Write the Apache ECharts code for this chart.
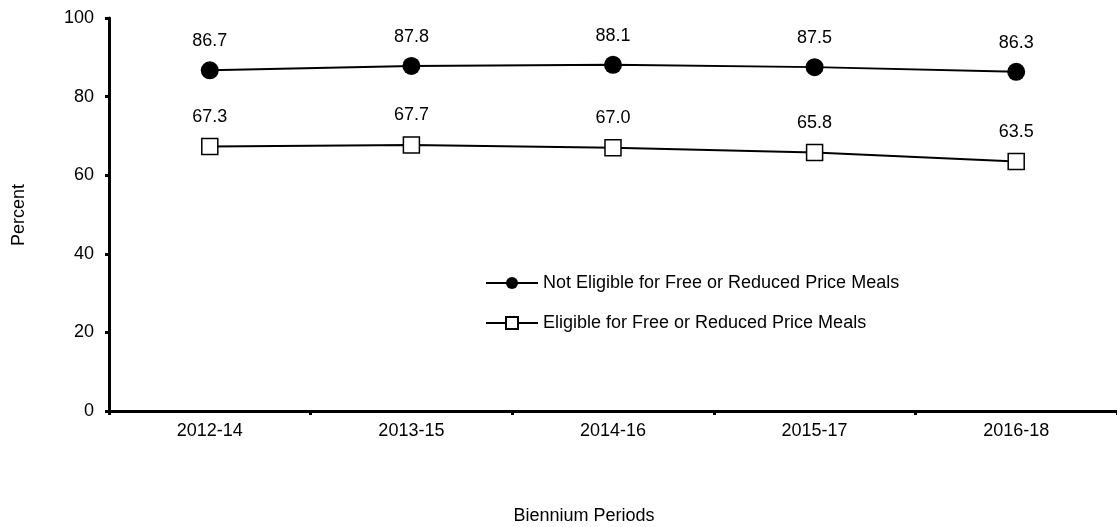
<!DOCTYPE html>
<html>
<head>
<meta charset="utf-8">
<script src="https://cdn.jsdelivr.net/npm/echarts@6/dist/echarts.min.js"></script>
<style>
  html, body { margin: 0; padding: 0; background: #fff; }
  #chart { width: 1117px; height: 527px; }
</style>
</head>
<body>
<div id="chart"></div>
<script>
// Biennium periods on the category axis
const periods = ['2012-14', '2013-15', '2014-16', '2015-17', '2016-18'];
// Percent of students, by meal eligibility
const notEligible = [86.7, 87.8, 88.1, 87.5, 86.3];
const eligible = [67.3, 67.7, 67.0, 65.8, 63.5];
const seriesNames = ['Not Eligible for Free or Reduced Price Meals', 'Eligible for Free or Reduced Price Meals'];
const yTicks = { min: 0, max: 100, interval: 20 };

const FONT = 'Liberation Sans, Arial, sans-serif';
const chart = echarts.init(document.getElementById('chart'), null, { renderer: 'canvas' });

const labelStyle = {
  show: true,
  position: 'top',
  color: '#000',
  fontFamily: FONT,
  fontSize: 18,
  formatter: p => p.value.toFixed(1)
};

chart.setOption({
  animation: false,
  backgroundColor: '#fff',
  grid: { left: 109, right: -3, top: 18, bottom: 116 },
  xAxis: {
    type: 'category',
    data: periods,
    boundaryGap: true,
    axisLine: { lineStyle: { color: '#000', width: 3 } },
    axisTick: { show: true, interval: 0, length: 4, lineStyle: { color: '#000', width: 3 } },
    axisLabel: { color: '#000', fontFamily: FONT, fontSize: 18, margin: 11 },
    splitLine: { show: false }
  },
  yAxis: {
    type: 'value',
    min: yTicks.min,
    max: yTicks.max,
    interval: yTicks.interval,
    axisLine: { show: true, lineStyle: { color: '#000', width: 3 } },
    axisTick: { show: true, length: 4, lineStyle: { color: '#000', width: 3 } },
    axisLabel: { color: '#000', fontFamily: FONT, fontSize: 18, margin: 15 },
    splitLine: { show: false }
  },
  legend: {
    orient: 'vertical',
    left: 485,
    top: 274,
    padding: 0,
    itemWidth: 52,
    itemHeight: 15,
    itemGap: 22,
    textStyle: { color: '#000', fontFamily: FONT, fontSize: 18 },
    data: seriesNames
  },
  graphic: [
    {
      type: 'text',
      x: 19, y: 215,
      rotation: Math.PI / 2,
      style: { text: 'Percent', fill: '#000', font: '18px ' + FONT, textAlign: 'center', textVerticalAlign: 'middle' }
    },
    {
      type: 'text',
      x: 584, y: 516,
      style: { text: 'Biennium Periods', fill: '#000', font: '18px ' + FONT, textAlign: 'center', textVerticalAlign: 'middle' }
    }
  ],
  series: [
    {
      name: seriesNames[0],
      type: 'line',
      data: notEligible,
      symbol: 'circle',
      symbolSize: 18,
      lineStyle: { color: '#000', width: 2 },
      itemStyle: { color: '#000', borderColor: '#000', borderWidth: 0 },
      label: Object.assign({}, labelStyle, { distance: 11 })
    },
    {
      name: seriesNames[1],
      type: 'line',
      data: eligible,
      symbol: 'rect',
      symbolSize: 16,
      lineStyle: { color: '#000', width: 2 },
      itemStyle: { color: '#fff', borderColor: '#000', borderWidth: 1.5 },
      label: Object.assign({}, labelStyle, { distance: 12 })
    }
  ]
});
</script>
</body>
</html>
